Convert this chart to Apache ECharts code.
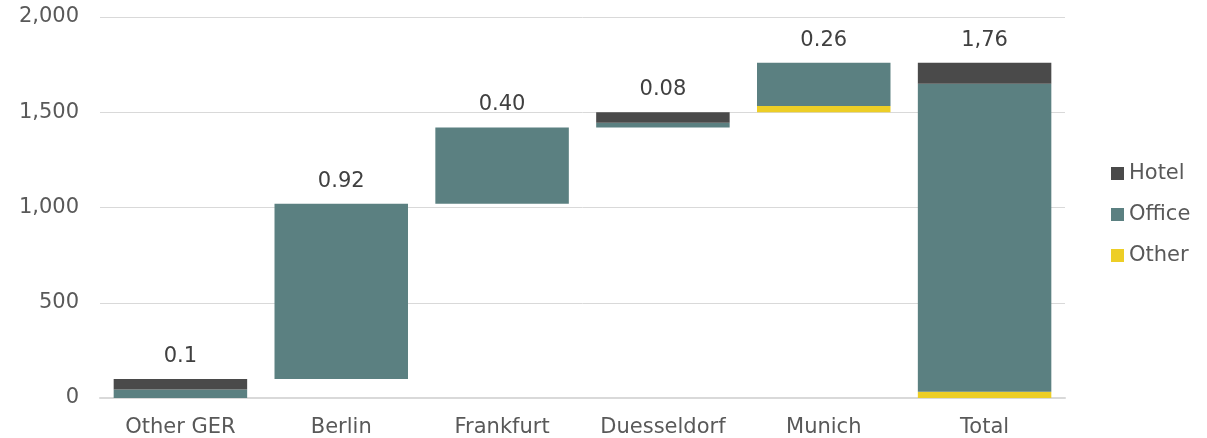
<!DOCTYPE html>
<html>
<head>
<meta charset="utf-8">
<script src="https://cdn.jsdelivr.net/npm/echarts@6/dist/echarts.min.js"></script>
<style>
  html, body { margin: 0; padding: 0; background: #fff; }
  #chart { width: 1207px; height: 438px; }
</style>
</head>
<body>
<div id="chart"></div>
<script>
// Transaction volume by city (waterfall), in EUR m
const categories = ['Other GER', 'Berlin', 'Frankfurt', 'Duesseldorf', 'Munich', 'Total'];
const baseValues = [0, 100, 1020, 1420, 1500, 0];
const otherValues = [0, 0, 0, 0, 33, 33];
const officeValues = [45, 920, 400, 25, 227, 1617];
const hotelValues = [55, 0, 0, 55, 0, 110];
const totalLabels = ['0.1', '0.92', '0.40', '0.08', '0.26', '1,76'];
const yTicks = [0, 500, 1000, 1500, 2000];

const font = 'DejaVu Sans, Verdana, sans-serif';
const textColor = '#595959';
const fontSize = 21;
const barWidth = '83%';

const chart = echarts.init(document.getElementById('chart'), null, { renderer: 'canvas' });

chart.setOption({
  animation: false,
  textStyle: { fontFamily: font },
  grid: { left: 100, right: 142, top: 17, bottom: 40, containLabel: false },
  legend: {
    data: ['Hotel', 'Office', 'Other'],
    orient: 'vertical',
    left: 1106,
    top: 158,
    itemWidth: 13,
    itemHeight: 13,
    itemGap: 20,
    icon: 'rect',
    textStyle: { color: textColor, fontSize: fontSize, fontFamily: font }
  },
  xAxis: {
    type: 'category',
    data: categories,
    axisLine: { lineStyle: { color: '#d9d9d9', width: 2 } },
    axisTick: { show: false },
    axisLabel: { color: textColor, fontSize: fontSize, fontFamily: font, margin: 19, interval: 0 }
  },
  yAxis: {
    type: 'value',
    min: yTicks[0],
    max: yTicks[yTicks.length - 1],
    interval: 500,
    axisLine: { show: false },
    axisTick: { show: false },
    splitLine: { lineStyle: { color: '#d9d9d9', width: 1 } },
    axisLabel: {
      color: textColor, fontSize: fontSize, fontFamily: font, margin: 21,
      formatter: v => v.toLocaleString('en-US')
    }
  },
  series: [
    {
      name: 'base', type: 'bar', stack: 'w', barWidth: barWidth,
      itemStyle: { color: 'transparent' }, silent: true,
      data: baseValues
    },
    {
      name: 'Other', type: 'bar', stack: 'w', barWidth: barWidth,
      itemStyle: { color: '#EDCE26' },
      data: otherValues
    },
    {
      name: 'Office', type: 'bar', stack: 'w', barWidth: barWidth,
      itemStyle: { color: '#5B8081' },
      data: officeValues
    },
    {
      name: 'Hotel', type: 'bar', stack: 'w', barWidth: barWidth,
      itemStyle: { color: '#4A4A4A' },
      data: hotelValues
    },
    {
      name: 'labels', type: 'bar', stack: 'w', barWidth: barWidth,
      itemStyle: { color: 'transparent' }, silent: true,
      data: categories.map(() => 0),
      label: {
        show: true, position: 'top', distance: 12,
        color: '#404040', fontSize: fontSize, fontFamily: font,
        formatter: p => totalLabels[p.dataIndex]
      }
    }
  ]
});
</script>
</body>
</html>
